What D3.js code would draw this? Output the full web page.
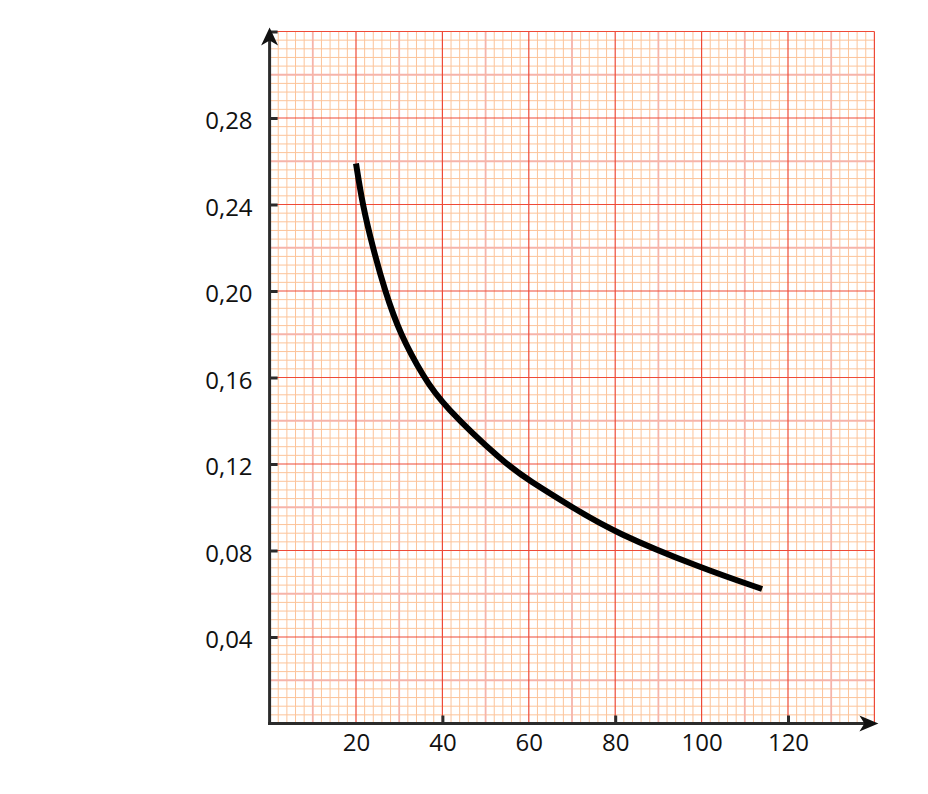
<!DOCTYPE html>
<html>
<head>
<meta charset="utf-8">
<script src="https://cdn.jsdelivr.net/npm/d3@7"></script>
<style>
  html, body { margin: 0; padding: 0; background: #fff; }
  svg { display: block; }
  text { font-family: "Open Sans", "DejaVu Sans", sans-serif; }
</style>
</head>
<body>
<svg id="chart" width="928" height="794"></svg>
<script>
// ---- data ----
const curveX = [20, 21.5, 23.9, 26.7, 30.2, 35.7, 40, 54.5, 60, 70, 80, 100, 114];
const curveY = [0.259, 0.24, 0.22, 0.20, 0.18, 0.16, 0.1475, 0.12, 0.1125, 0.1, 0.0882, 0.0718, 0.0622];
const xTickLabels = [20, 40, 60, 80, 100, 120];
const xTickMarks = [40, 80, 120];
const yTickLabels = [0.04, 0.08, 0.12, 0.16, 0.20, 0.24, 0.28];
const yTickMarks = [0.04, 0.08, 0.12, 0.16, 0.20, 0.24, 0.28, 0.32];
const xMax = 140, yMax = 0.32;

// ---- layout ----
const svg = d3.select("#chart");
const padLeft = 269.6, padTop = 31.5, padRight = 874.4, padBottom = 723.5;
const x = d3.scaleLinear().domain([0, xMax]).range([padLeft, padRight]);
const y = d3.scaleLinear().domain([0, yMax]).range([padBottom, padTop]);

// ---- graph paper grid ----
const grid = svg.append("g");
const minorCol = "#fcc49a", midCol = "#f6b4aa", majorCol = "#ee4a38";

// vertical minor lines: every 2 units
d3.range(1, 71).forEach(i => {
  const isMajor = i % 10 === 0, isMid = !isMajor && i % 5 === 0;
  if (isMajor || isMid) return;
  const v = i * 2;
  grid.append("line")
    .attr("x1", x(v)).attr("x2", x(v)).attr("y1", y(0)).attr("y2", y(yMax))
    .attr("stroke", minorCol).attr("stroke-width", 1);
});
// horizontal minor: every 0.004
d3.range(1, 81).forEach(i => {
  const isMajor = i % 10 === 0, isMid = !isMajor && i % 5 === 0;
  if (isMajor || isMid) return;
  const v = i * 0.004;
  grid.append("line")
    .attr("x1", x(0)).attr("x2", x(xMax)).attr("y1", y(v)).attr("y2", y(v))
    .attr("stroke", minorCol).attr("stroke-width", 1);
});
// mid lines
d3.range(1, 15).filter(i => i % 2 === 1).forEach(i => {
  const v = i * 10;
  grid.append("line")
    .attr("x1", x(v)).attr("x2", x(v)).attr("y1", y(0)).attr("y2", y(yMax))
    .attr("stroke", midCol).attr("stroke-width", 1.8);
});
d3.range(1, 16).filter(i => i % 2 === 1).forEach(i => {
  const v = i * 0.02;
  grid.append("line")
    .attr("x1", x(0)).attr("x2", x(xMax)).attr("y1", y(v)).attr("y2", y(v))
    .attr("stroke", midCol).attr("stroke-width", 1.8);
});
// major lines
d3.range(1, 8).forEach(i => {
  const v = i * 20;
  grid.append("line")
    .attr("x1", x(v)).attr("x2", x(v)).attr("y1", y(0)).attr("y2", y(yMax))
    .attr("stroke", majorCol).attr("stroke-width", 1.2);
});
d3.range(1, 9).forEach(i => {
  const v = i * 0.04;
  grid.append("line")
    .attr("x1", x(0)).attr("x2", x(xMax)).attr("y1", y(v)).attr("y2", y(v))
    .attr("stroke", majorCol).attr("stroke-width", 1.2);
});

// ---- curve ----
const pts = curveX.map((d, i) => [d, curveY[i]]);
svg.append("path")
  .datum(pts)
  .attr("fill", "none")
  .attr("stroke", "#000")
  .attr("stroke-width", 6)
  .attr("stroke-linecap", "butt")
  .attr("d", d3.line().x(d => x(d[0])).y(d => y(d[1])).curve(d3.curveBasis));

// ---- axes ----
const axisCol = "#2b2b2b";
const fmt = d => d.toFixed(2).replace(".", ",");

// y tick marks (inward) + labels
const yAxisG = svg.append("g").attr("transform", `translate(${x(0)},0)`)
  .call(d3.axisLeft(y).tickValues(yTickMarks).tickSize(-8).tickPadding(17)
    .tickFormat(d => yTickLabels.some(t => Math.abs(t - d) < 1e-9) ? fmt(d) : ""));
yAxisG.select(".domain").remove();
yAxisG.selectAll(".tick line").attr("stroke", axisCol).attr("stroke-width", 3);
yAxisG.selectAll(".tick text").attr("font-size", 24).attr("fill", "#111")
  .attr("font-family", "'Open Sans', sans-serif").attr("dy", "0.45em");

// x labels
const xAxisG = svg.append("g").attr("transform", `translate(0,${y(0)})`)
  .call(d3.axisBottom(x).tickValues(xTickLabels).tickSize(0).tickPadding(10));
xAxisG.select(".domain").remove();
xAxisG.selectAll(".tick text").attr("font-size", 24).attr("fill", "#111")
  .attr("font-family", "'Open Sans', sans-serif");

// x tick marks (inward)
const xMarkG = svg.append("g").attr("transform", `translate(0,${y(0)})`)
  .call(d3.axisBottom(x).tickValues(xTickMarks).tickSize(-8).tickFormat(""));
xMarkG.select(".domain").remove();
xMarkG.selectAll(".tick line").attr("stroke", axisCol).attr("stroke-width", 3);

// axis lines with arrows
const x0 = x(0), y0 = y(0);
const yTip = y(yMax) - 4, xTip = x(xMax) + 4;
svg.append("line").attr("x1", x0).attr("x2", x0).attr("y1", y0 + 1.5).attr("y2", yTip + 10)
  .attr("stroke", axisCol).attr("stroke-width", 3);
svg.append("line").attr("x1", x0 - 1.5).attr("x2", xTip - 10).attr("y1", y0).attr("y2", y0)
  .attr("stroke", axisCol).attr("stroke-width", 3);
svg.append("path")
  .attr("d", `M${x0},${yTip} L${x0 + 8.5},${yTip + 18} L${x0},${yTip + 13} L${x0 - 8.5},${yTip + 18} Z`)
  .attr("fill", "#111");
svg.append("path")
  .attr("d", `M${xTip},${y0} L${xTip - 19},${y0 - 8} L${xTip - 14},${y0} L${xTip - 19},${y0 + 8} Z`)
  .attr("fill", "#111");
</script>
</body>
</html>
